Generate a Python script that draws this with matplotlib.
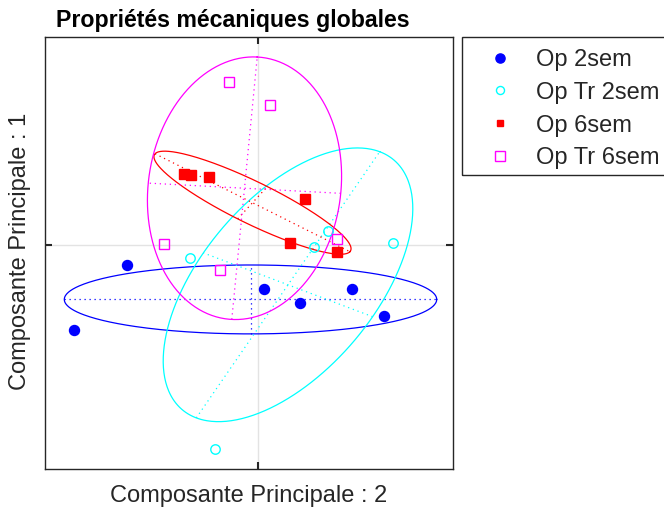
import numpy as np
import matplotlib
matplotlib.use('Agg')
import matplotlib.pyplot as plt
from matplotlib.lines import Line2D
from matplotlib.patches import Rectangle

plt.rcParams['font.family'] = ['Liberation Sans', 'DejaVu Sans']

# ---- data (principal component scores) ----
groups = ['Op 2sem', 'Op Tr 2sem', 'Op 6sem', 'Op Tr 6sem']

op2_x = [-1.307, -1.840, 0.063, 0.417, 0.937, 1.263]
op2_y = [-0.278, -1.153, -0.603, -0.792, -0.603, -0.964]

optr2_x = [0.700, 0.557, 1.347, -0.680, -0.427]
optr2_y = [0.185, -0.027, 0.027, -0.176, -2.761]

op6_x = [-0.737, -0.670, -0.487, 0.473, 0.320, 0.787]
op6_y = [0.965, 0.946, 0.924, 0.618, 0.027, -0.095]

optr6_x = [-0.290, 0.120, -0.940, 0.793, -0.377]
optr6_y = [2.199, 1.897, 0.005, 0.081, -0.342]

# ellipse parameters per group: centre, semi-axes, orientation (deg)
ell_cx = [-0.075, 0.300, -0.055, -0.135]
ell_cy = [-0.738, -0.540, 0.570, 0.766]
ell_a = [1.862, 2.020, 1.178, 1.779]
ell_b = [0.466, 0.950, 0.264, 0.965]
ell_ang = [0.0, 63.0, -34.2, 85.9]

colors = ['#0000ff', '#00ffff', '#ff0000', '#ff00ff']

xlim = (-2.133, 1.953)
ylim = (-3.031, 2.807)

fig = plt.figure(figsize=(6.64, 5.09), dpi=100)
ax = fig.add_axes([44.7 / 664, 1 - 469 / 509, (453.3 - 44.7) / 664, (469 - 37.3) / 509])

ax.axhline(0, color='#e3e3e3', lw=1.0, zorder=0)
ax.axvline(0, color='#e3e3e3', lw=1.0, zorder=0)

t = np.linspace(0, 2 * np.pi, 400)
for cx, cy, a, b, ang, c in zip(ell_cx, ell_cy, ell_a, ell_b, ell_ang, colors):
    th = np.deg2rad(ang)
    ux, uy = np.cos(th), np.sin(th)
    vx, vy = -np.sin(th), np.cos(th)
    ex = cx + a * np.cos(t) * ux + b * np.sin(t) * vx
    ey = cy + a * np.cos(t) * uy + b * np.sin(t) * vy
    ax.plot(ex, ey, color=c, lw=0.9, zorder=2)
    ax.plot([cx - a * ux, cx + a * ux], [cy - a * uy, cy + a * uy], color=c, lw=0.9,
            ls=(0, (1, 3)), zorder=2)
    ax.plot([cx - b * vx, cx + b * vx], [cy - b * vy, cy + b * vy], color=c, lw=0.9,
            ls=(0, (1, 3)), zorder=2)

ax.plot(op2_x, op2_y, 'o', color=colors[0], ms=7.2, mec=colors[0], ls='none', zorder=3)
ax.plot(optr2_x, optr2_y, 'o', mfc='none', mec=colors[1], ms=6.8, mew=1.0, ls='none', zorder=3)
ax.plot(op6_x, op6_y, 's', color=colors[2], ms=6.8, mec=colors[2], ls='none', zorder=3)
ax.plot(optr6_x, optr6_y, 's', mfc='none', mec=colors[3], ms=6.8, mew=1.0, ls='none', zorder=3)

ax.set_xlim(*xlim)
ax.set_ylim(*ylim)
ax.set_xticks([0])
ax.set_yticks([0])
ax.set_xticklabels([])
ax.set_yticklabels([])
ax.tick_params(direction='in', length=5, width=1.5, color='#262626',
               top=True, right=True, bottom=True, left=True)
for sp in ax.spines.values():
    sp.set_color('#262626')
    sp.set_linewidth(1.0)

fig.text(233 / 664, 1 - 27 / 509, 'Propriétés mécaniques globales', ha='center', va='baseline',
         fontsize=16.7, fontweight='bold', color='black')
fig.text(249 / 664, 1 - 502 / 509, 'Composante Principale : 2', ha='center', va='baseline',
         fontsize=17, color='#262626')
fig.text(20 / 664, 1 - 251 / 509, 'Composante Principale : 1', ha='center', va='center',
         rotation=90, fontsize=17, color='#262626')

# legend proxies (legend glyph sizes as in the reference)
p1 = Line2D([], [], marker='o', color=colors[0], ms=6.6, ls='none')
p2 = Line2D([], [], marker='o', mfc='none', mec=colors[1], ms=5.8, mew=1.0, ls='none')
p3 = Line2D([], [], marker='s', color=colors[2], ms=5.0, ls='none')
p4 = Line2D([], [], marker='s', mfc='none', mec=colors[3], ms=7.2, mew=1.0, ls='none')

leg = ax.legend([p1, p2, p3, p4], groups, loc='upper left',
                bbox_to_anchor=(462 / 664, 1 - 37 / 509), bbox_transform=fig.transFigure,
                borderaxespad=0, fontsize=17, frameon=False,
                borderpad=0.5, handlelength=2.2,
                handletextpad=0.45, labelspacing=0.46)
for txt in leg.get_texts():
    txt.set_color('#262626')

# legend box (runs past the right edge of the figure, as in the reference)
fig.patches.append(Rectangle((462 / 664, 1 - 175 / 509), 300 / 664, (175 - 37) / 509,
                             transform=fig.transFigure, fill=False, edgecolor='#262626',
                             lw=1.0, zorder=5))

fig.savefig('out.png', dpi=100)
